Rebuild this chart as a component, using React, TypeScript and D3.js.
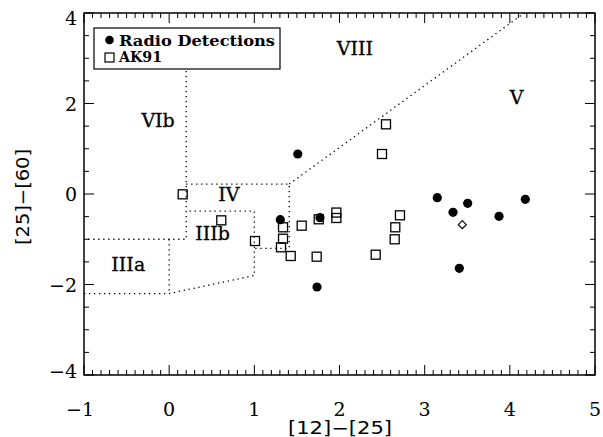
import React from "react";
import * as d3 from "d3";

const radioX = [1.51, 1.305, 1.771, 1.736, 3.148, 3.333, 3.505, 3.407, 3.873, 4.182];
const radioY = [0.884, -0.568, -0.523, -2.055, -0.081, -0.405, -0.206, -1.643, -0.493, -0.117];

const ak91X = [0.159, 0.612, 1.008, 1.337, 1.337, 1.313, 1.427, 1.556, 1.756, 1.963, 1.963, 1.732, 2.546, 2.499, 2.71, 2.655, 2.648, 2.425];
const ak91Y = [-0.007, -0.582, -1.039, -0.736, -0.988, -1.178, -1.37, -0.7, -0.559, -0.41, -0.53, -1.385, 1.54, 0.884, -0.471, -0.736, -1.001, -1.341];

const diamondX = [3.442];
const diamondY = [-0.678];

const xTicks = [-1, 0, 1, 2, 3, 4, 5];
const yTicks = [-4, -2, 0, 2, 4];

const regionLines: [number, number][][] = [
  [[0.2, 2.72], [0.2, -1], [-1, -1]],
  [[-1, -2.2], [0, -2.2], [1, -1.8], [1, -0.38], [0.2, -0.38]],
  [[0, -1], [0, -2.2]],
  [[0.2, 0.22], [1.41, 0.22], [1.41, -1.2], [1, -1.2]],
  [[1.41, 0.22], [4.17, 4]],
];

const regionNames = ["VIII", "V", "VIb", "IV", "IIIb", "IIIa"];
const regionLabelX = [2.18, 4.08, -0.13, 0.7, 0.51, -0.48];
const regionLabelY = [3.23, 2.14, 1.64, 0.0, -0.86, -1.55];

const W = 603, H = 437;
const L = 84, R = 595, T = 13, B = 375;

export default function App() {
  const x = d3.scaleLinear().domain([-1, 5]).range([L, R]);
  const y = d3.scaleLinear().domain([-4, 4]).range([B, T]);
  const line = d3.line<[number, number]>().x((d) => x(d[0])).y((d) => y(d[1]));

  const xMinor = d3.range(-1, 5.0001, 0.1).map((v) => Math.round(v * 10) / 10);
  const yMinor = d3.range(-4, 4.0001, 0.5);
  const serif = "'DejaVu Serif', serif";

  const fmt = (v: number) => (v < 0 ? "\u2212" + Math.abs(v) : String(v));

  return (
    <svg width={W} height={H} style={{ position: "absolute", left: 0, top: 0, background: "#fff" }}>
      <rect x={0} y={0} width={W} height={H} fill="#fff" />
      {regionLines.map((pts, i) => (
        <path key={i} d={line(pts) || ""} fill="none" stroke="#000" strokeWidth={1.3} strokeDasharray="1.3,3.7" />
      ))}
      {regionNames.map((n, i) => (
        <text key={n} x={x(regionLabelX[i])} y={y(regionLabelY[i])} textAnchor="middle" dominantBaseline="central"
          fontFamily={serif} fontSize={19} fill="#000" stroke="#000" strokeWidth={0.3}>{n}</text>
      ))}
      {ak91X.map((v, i) => (
        <rect key={"s" + i} x={x(v) - 4.5} y={y(ak91Y[i]) - 4.5} width={9} height={9} fill="none" stroke="#000" strokeWidth={1.3} />
      ))}
      {radioX.map((v, i) => (
        <circle key={"c" + i} cx={x(v)} cy={y(radioY[i])} r={4.6} fill="#000" />
      ))}
      {diamondX.map((v, i) => {
        const cx = x(v), cy = y(diamondY[i]), s = 4;
        return <path key={"d" + i} d={`M${cx},${cy - s}L${cx + s},${cy}L${cx},${cy + s}L${cx - s},${cy}Z`} fill="none" stroke="#000" strokeWidth={1.2} />;
      })}
      {xMinor.map((v, i) => {
        const major = Math.abs(v - Math.round(v)) < 1e-6;
        const len = major ? 10 : 5;
        return (
          <g key={"xt" + i}>
            <line x1={x(v)} x2={x(v)} y1={B} y2={B - len} stroke="#000" strokeWidth={1} />
            <line x1={x(v)} x2={x(v)} y1={T} y2={T + len} stroke="#000" strokeWidth={1} />
          </g>
        );
      })}
      {yMinor.map((v, i) => {
        const major = Math.abs(v / 2 - Math.round(v / 2)) < 1e-6;
        const len = major ? 10 : 5;
        return (
          <g key={"yt" + i}>
            <line x1={L} x2={L + len} y1={y(v)} y2={y(v)} stroke="#000" strokeWidth={1} />
            <line x1={R} x2={R - len} y1={y(v)} y2={y(v)} stroke="#000" strokeWidth={1} />
          </g>
        );
      })}
      <rect x={L} y={T} width={R - L} height={B - T} fill="none" stroke="#000" strokeWidth={1.5} />
      {xTicks.map((v) => (
        <text key={"xl" + v} x={x(v) - (v < 0 ? 4 : 0)} y={416} textAnchor="middle" fontFamily={serif} fontSize={19} fill="#000">{fmt(v)}</text>
      ))}
      {yTicks.map((v) => (
        <text key={"yl" + v} x={77} y={y(v) + (v === 4 ? 5 : v === -4 ? -4 : 0)} textAnchor="end" dominantBaseline="central" fontFamily={serif} fontSize={19} fill="#000">{fmt(v)}</text>
      ))}
      <text x={340} y={434} textAnchor="middle" fontFamily="'DejaVu Sans', sans-serif" fontSize={17} textLength={104} lengthAdjust="spacingAndGlyphs" fill="#000">[12]−[25]</text>
      <text transform={`translate(29,197) rotate(-90)`} textAnchor="middle" fontFamily="'DejaVu Sans', sans-serif" fontSize={18} textLength={96} lengthAdjust="spacingAndGlyphs" fill="#000">[25]−[60]</text>
      <rect x={94} y={28} width={186} height={41} fill="#fff" stroke="#000" strokeWidth={1.2} />
      <circle cx={109.5} cy={40} r={4.3} fill="#000" />
      <text x={119} y={45.5} fontFamily={serif} fontWeight="bold" fontSize={15} textLength={156} lengthAdjust="spacingAndGlyphs" fill="#000">Radio Detections</text>
      <rect x={105} y={53} width={9} height={9} fill="none" stroke="#000" strokeWidth={1.2} />
      <text x={119} y={62} fontFamily={serif} fontWeight="bold" fontSize={15} textLength={43} lengthAdjust="spacingAndGlyphs" fill="#000">AK91</text>
    </svg>
  );
}
